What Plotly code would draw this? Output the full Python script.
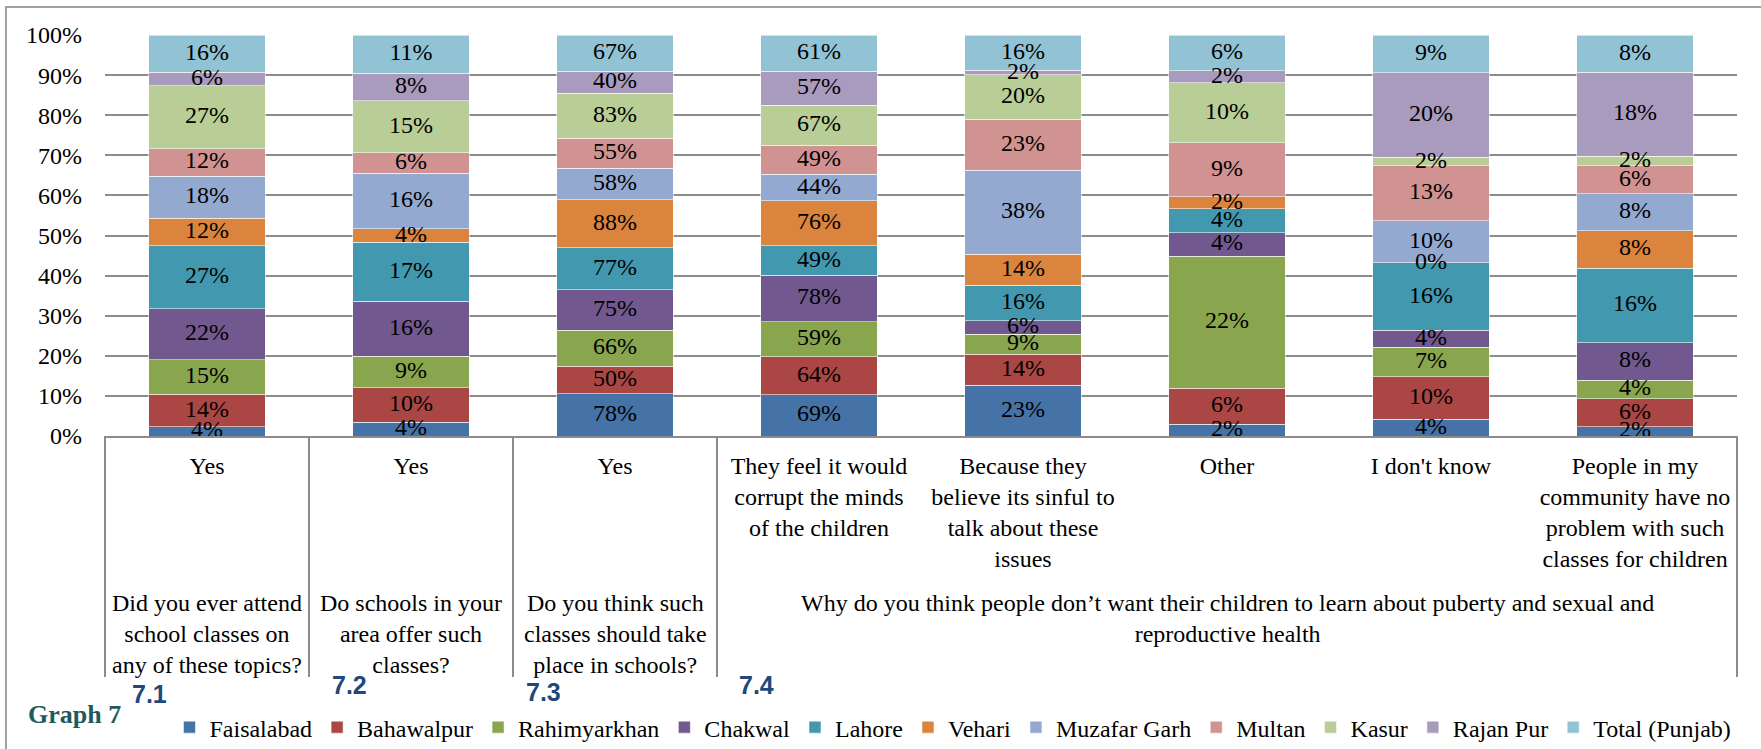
import plotly.graph_objects as go

# Category ids (x) and their wrapped axis labels
categories = ["7.1 Yes", "7.2 Yes", "7.3 Yes", "7.4 corrupt", "7.4 sinful",
              "7.4 other", "7.4 dont know", "7.4 no problem"]
category_labels = [
    "Yes",
    "Yes",
    "Yes",
    "They feel it would<br>corrupt the minds<br>of the children",
    "Because they<br>believe its sinful to<br>talk about these<br>issues",
    "Other",
    "I don't know",
    "People in my<br>community have no<br>problem with such<br>classes for children",
]

# Question groups: (first category index, number of categories, label, code)
groups = [
    (0, 1, "Did you ever attend<br>school classes on<br>any of these topics?", "7.1"),
    (1, 1, "Do schools in your<br>area offer such<br>classes?", "7.2"),
    (2, 1, "Do you think such<br>classes should take<br>place in schools?", "7.3"),
    (3, 5, "Why do you think people don’t want their children to learn about puberty and sexual and<br>reproductive health", "7.4"),
]

# Percent responses per district
districts = ["Faisalabad", "Bahawalpur", "Rahimyarkhan", "Chakwal", "Lahore", "Vehari",
             "Muzafar Garh", "Multan", "Kasur", "Rajan Pur", "Total (Punjab)"]
faisalabad = [4, 4, 78, 69, 23, 2, 4, 2]
bahawalpur = [14, 10, 50, 64, 14, 6, 10, 6]
rahimyarkhan = [15, 9, 66, 59, 9, 22, 7, 4]
chakwal = [22, 16, 75, 78, 6, 4, 4, 8]
lahore = [27, 17, 77, 49, 16, 4, 16, 16]
vehari = [12, 4, 88, 76, 14, 2, 0, 8]
muzafar_garh = [18, 16, 58, 44, 38, None, 10, 8]
multan = [12, 6, 55, 49, 23, 9, 13, 6]
kasur = [27, 15, 83, 67, 20, 10, 2, 2]
rajan_pur = [6, 8, 40, 57, 2, 2, 20, 18]
total_punjab = [16, 11, 67, 61, 16, 6, 9, 8]

series = [faisalabad, bahawalpur, rahimyarkhan, chakwal, lahore, vehari,
          muzafar_garh, multan, kasur, rajan_pur, total_punjab]
colors = ["#4572A7", "#AA4643", "#89A54E", "#71588F", "#4198AF", "#DB843D",
          "#93A9CF", "#D19392", "#B9CD96", "#A99BBD", "#92C3D5"]

SERIF = "Liberation Serif"
FS = 24
GRID = "#8C8C8C"

fig = go.Figure()
for name, vals, col in zip(districts, series, colors):
    fig.add_trace(go.Bar(
        x=categories, y=vals, name=name,
        marker=dict(color=col, line=dict(color="rgba(255,255,255,0.55)", width=1)),
        width=0.57,
    ))

# Value labels at the middle of each stacked segment (stack shares of 100%),
# drawn as a text layer above all bars so overflowing labels stay readable
n = len(categories)
totals = [sum(s[i] for s in series if s[i] is not None) for i in range(n)]
running = [0.0] * n
for name, vals in zip(districts, series):
    xs, ys, ts = [], [], []
    for i, v in enumerate(vals):
        if v is None:
            continue
        xs.append(categories[i])
        ys.append((running[i] + v / 2) / totals[i] * 100)
        ts.append(f"{v}%")
        running[i] += v
    fig.add_trace(go.Scatter(
        x=xs, y=ys, text=ts, mode="text", textposition="middle center",
        textfont=dict(family=SERIF, size=FS, color="#000000"),
        showlegend=False, hoverinfo="skip", cliponaxis=False,
    ))

shapes = []
# vertical dividers between question groups, running through the label area
bounds = [g[0] for g in groups] + [n]
for b in bounds:
    shapes.append(dict(type="line", xref="paper", yref="paper",
                       x0=b / n, x1=b / n, y0=0, y1=-0.601,
                       line=dict(color=GRID, width=2)))
# outer frame of the graphic
shapes.append(dict(type="rect", xref="paper", yref="paper",
                   x0=-0.0607, x1=1.03, y0=-0.82, y1=1.0698,
                   line=dict(color="#A0A0A0", width=2), fillcolor="rgba(0,0,0,0)",
                   layer="below"))

annotations = []
for start, count, label, code in groups:
    annotations.append(dict(
        x=start + (count - 1) / 2, xref="x", y=-0.38, yref="paper",
        text=label, showarrow=False, xanchor="center", yanchor="top",
        font=dict(family=SERIF, size=FS, color="#000000")))

code_pos = {"7.1": (0.027, -0.643), "7.2": (0.150, -0.621),
            "7.3": (0.2684, -0.638), "7.4": (0.3995, -0.621)}
for start, count, label, code in groups:
    cx, cy = code_pos[code]
    annotations.append(dict(
        x=cx, y=cy, xref="paper", yref="paper", text=f"<b>{code}</b>",
        showarrow=False, xanchor="center", yanchor="middle",
        font=dict(family="Liberation Sans", size=25, color="#1F497D")))

annotations.append(dict(
    x=-0.0184, y=-0.695, xref="paper", yref="paper", text="<b>Graph 7</b>",
    showarrow=False, xanchor="center", yanchor="middle",
    font=dict(family=SERIF, size=26, color="#1F5B5B")))

fig.update_layout(
    width=1761, height=749,
    margin=dict(l=105, r=24, t=35, b=313, autoexpand=False),
    paper_bgcolor="white", plot_bgcolor="white",
    barmode="stack", barnorm="percent",
    showlegend=True,
    legend=dict(orientation="h", x=0.0395, xanchor="left", y=-0.727, yanchor="middle",
                font=dict(family=SERIF, size=FS, color="#000000"),
                traceorder="normal", bgcolor="rgba(0,0,0,0)"),
    shapes=shapes,
    annotations=annotations,
    font=dict(family=SERIF, size=FS, color="#000000"),
)
fig.update_xaxes(
    type="category", range=[-0.5, n - 0.5], automargin=False,
    tickvals=categories, ticktext=category_labels,
    tickfont=dict(family=SERIF, size=FS, color="#000000"),
    ticks="", ticklabelstandoff=7,
    showline=True, linecolor=GRID, linewidth=2, showgrid=False,
)
fig.update_yaxes(
    range=[0, 100], dtick=10, ticksuffix="%", automargin=False,
    tickfont=dict(family=SERIF, size=FS, color="#000000"),
    ticks="", ticklabelstandoff=22,
    showgrid=True, gridcolor=GRID, gridwidth=2, zeroline=False, showline=False,
)

fig.write_html("out.html")
